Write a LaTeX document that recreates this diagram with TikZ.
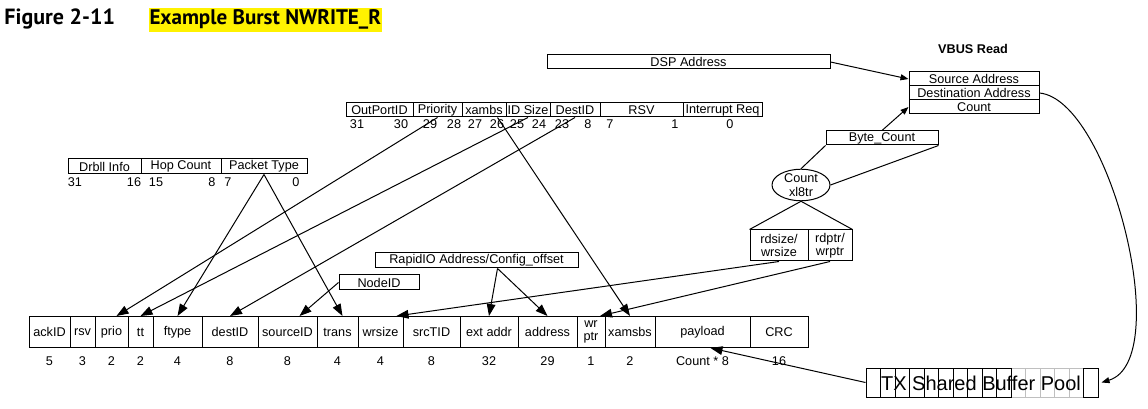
\documentclass[tikz,border=0pt]{standalone}
\usepackage{fontspec}
\setmainfont{Liberation Sans}
\newfontfamily\titlefont{PT Sans}
\usetikzlibrary{arrows.meta,shapes.geometric,calc}

\begin{document}
\begin{tikzpicture}[x=0.75pt,y=-0.75pt,line width=0.75pt,
    fld/.style={draw,inner sep=0pt,font=\fontsize{9.5}{10}\selectfont},
    num/.style={inner sep=0pt,font=\fontsize{9.5}{10}\selectfont},
    ttl/.style={anchor=base west,inner sep=0pt,font=\titlefont\bfseries\fontsize{16.5}{18}\selectfont},
    arr/.style={-{Triangle[length=9pt,width=6.5pt]}},
    sarr/.style={-{Triangle[length=6pt,width=4.5pt]}}]
\useasboundingbox (0,0) rectangle (1148,409);

\node[ttl] (fig) at (4,25) {Figure 2-11};
\node[ttl,font=\titlefont\bfseries\fontsize{15.8}{18}\selectfont,fill=yellow,inner xsep=0.75pt,inner ysep=1.5pt] (title) at (148,25) {Example Burst NWRITE\_R};

\foreach \name/\xl/\xr/\txt/\bits in {ackid/29/70/ackID/5, rsv/70/95/rsv/3, prio/95/128/prio/2, tt/128/153/tt/2, ftype/153/202/ftype/4, destid/202/258/destID/8, srcid/258/317/sourceID/8, trans/317/358/trans/4, wrsize/358/403/wrsize/4, srctid/403/460/srcTID/8, extaddr/460/518/ext addr/32, address/518/577/address/29, wrptr/577/605/{wr\\ptr}/1, xamsbs/605/655/xamsbs/2, payload/655/750/payload/Count * 8, crc/750/808/CRC/16} {
    \node[fld,align=center,minimum width=(\xr-\xl)*0.75pt,minimum height=23.25pt] (\name) at ({(\xl+\xr)/2},332) {\txt};
    \node[num] (\name-bits) at ({(\xl+\xr)/2},361) {\bits};
}

\foreach \name/\xl/\xr/\txt in {hOutPort/346/413/OutPortID, hPrio/413/462/Priority, hXambs/462/506/xambs, hIDSize/506/550/ID Size, hDestID/550/600/DestID, hRSV/600/683/RSV, hIntReq/683/762/Interrupt Req} {
    \node[fld,minimum width=(\xr-\xl)*0.75pt,minimum height=10.5pt] (\name) at ({(\xl+\xr)/2},110) {\txt};
}
\foreach \xc/\txt [count=\i] in {357/31, 401/30, 430/29, 454/28, 475/27, 497/26, 517/25, 539/24, 562/23, 588/8, 610/7, 675/1, 730/0} {
    \node[num] (hbit\i) at (\xc,124) {\txt};
}

\foreach \name/\xl/\xr/\txt in {hDrbll/68/141/Drbll Info, hHop/141/221/Hop Count, hPacket/221/307/Packet Type} {
    \node[fld,minimum width=(\xr-\xl)*0.75pt,minimum height=11.25pt] (\name) at ({(\xl+\xr)/2},166.5) {\txt};
}
\foreach \xc/\txt [count=\i] in {75/31, 134/16, 156/15, 212/8, 228/7, 296/0} {
    \node[num] (dbit\i) at (\xc,182) {\txt};
}

\node[fld,minimum width=60pt,minimum height=11.25pt] (nodeid) at (379,282.5) {NodeID};
\node[fld,minimum width=152.25pt,minimum height=11.25pt] (rapid) at (476.5,260.5) {RapidIO Address/Config\_offset};
\node[fld,minimum width=212.25pt,minimum height=10.5pt] (dsp) at (688.5,62) {DSP Address};
\node[fld,minimum width=84pt,minimum height=10.5pt] (bytecnt) at (882,138) {Byte\_Count};

\node[num,font=\fontsize{9.5}{10}\selectfont\bfseries] (vbus) at (973,49) {VBUS Read};
\node[fld,minimum width=97.5pt,minimum height=10.5pt] (src) at (974,79) {Source Address};
\node[fld,minimum width=97.5pt,minimum height=10.5pt] (dst) at (974,93) {Destination Address};
\node[fld,minimum width=97.5pt,minimum height=10.5pt] (cnt) at (974,107) {Count};

\node[fld,ellipse,align=center,minimum width=43.5pt,minimum height=22.5pt] (xl8tr) at (801,185) {Count\\xl8tr};
\node[fld,align=center,minimum width=43.5pt,minimum height=23.25pt] (rdsize) at (779,245.5) {rdsize/\\wrsize};
\node[fld,align=center,minimum width=33pt,minimum height=23.25pt] (rdptr) at (830,245.5) {rdptr/\\wrptr};

\foreach \i in {11,...,15} {
    \node[draw=lightgray,minimum width=10.875pt,minimum height=21.75pt,inner sep=0pt] (pool\i) at ({866+(\i-0.5)*14.5},382.5) {};
}
\foreach \i in {1,...,10,16} {
    \node[draw,minimum width=10.875pt,minimum height=21.75pt,inner sep=0pt] (pool\i) at ({866+(\i-0.5)*14.5},382.5) {};
}
\node[inner sep=0pt,font=\fontsize{15}{16}\selectfont] (poolText) at (981,383) {TX Shared Buffer Pool};

\draw[arr] (hPrio.south) -- ($(prio.north)+(5,0)$);
\draw[arr] (hIDSize.south) -- (tt.north);
\draw[arr] (hDestID.south) -- (destid.north);
\draw[arr] ($(hXambs.south)!.6!(hXambs.south east)$) -- (xamsbs.north);
\draw[arr] (hPacket.south) -- (ftype.north);
\draw[arr] (hPacket.south) -- ($(trans.north)+(5,0)$);
\draw[arr] (nodeid.west) -- ($(srcid.north)+(12,0)$);
\draw[arr] ($(rapid.south)+(21,0)$) -- (extaddr.north);
\draw[arr] ($(rapid.south)+(21,0)$) -- (address.north);
\draw[arr] (rdsize.south) -- ($(wrsize.north)+(16,0)$);
\draw[arr] (rdptr.south) -- ($(wrptr.north)+(9,0)$);
\draw (xl8tr.south) -- (rdsize.north west);
\draw (xl8tr.south) -- (rdptr.north east);
\draw (xl8tr.north) -- (bytecnt.south west);
\draw (xl8tr.east) -- (bytecnt.south east);
\draw[sarr] (bytecnt.north) -- (cnt.west);
\draw[sarr] (dsp.east) -- (src.west);
\draw[sarr] (dst.east) .. controls (1110,100) and (1175,360) .. ($(pool16.east)+(3,0)$);
\draw[arr] (pool1.west) -- ($(payload.south)+(8,0)$);
\end{tikzpicture}
\end{document}
